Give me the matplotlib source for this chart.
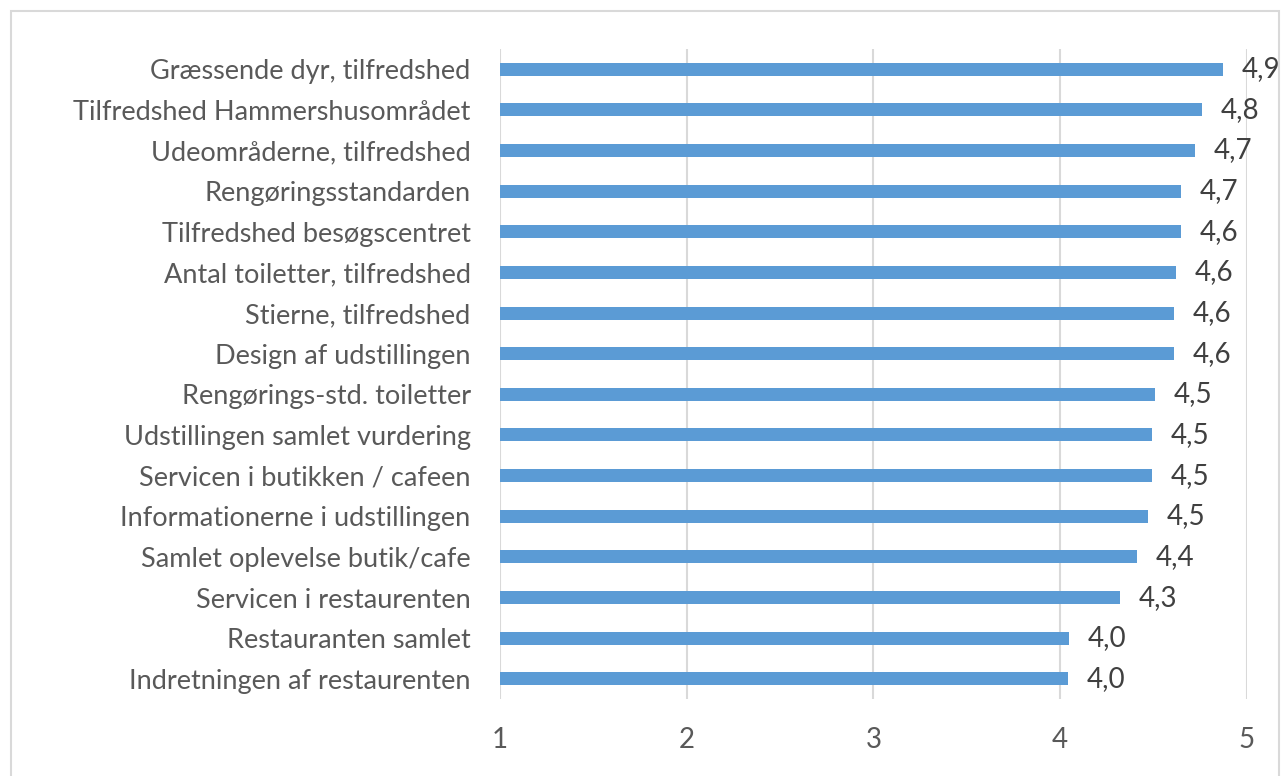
import matplotlib.pyplot as plt
import matplotlib.patches as mpatches

categories = [
    "Græssende dyr, tilfredshed",
    "Tilfredshed Hammershusområdet",
    "Udeområderne, tilfredshed",
    "Rengøringsstandarden",
    "Tilfredshed besøgscentret",
    "Antal toiletter, tilfredshed",
    "Stierne, tilfredshed",
    "Design af udstillingen",
    "Rengørings-std. toiletter",
    "Udstillingen samlet vurdering",
    "Servicen i butikken / cafeen",
    "Informationerne i udstillingen",
    "Samlet oplevelse butik/cafe",
    "Servicen i restaurenten",
    "Restauranten samlet",
    "Indretningen af restaurenten",
]
values = [4.87, 4.76, 4.72, 4.65, 4.65, 4.62, 4.61, 4.61,
          4.51, 4.49, 4.49, 4.47, 4.41, 4.32, 4.05, 4.04]
value_labels = ["4,9", "4,8", "4,7", "4,7", "4,6", "4,6", "4,6", "4,6",
                "4,5", "4,5", "4,5", "4,5", "4,4", "4,3", "4,0", "4,0"]
xticks = [1, 2, 3, 4, 5]

plt.rcParams['font.family'] = ['Lato', 'DejaVu Sans']

fig = plt.figure(figsize=(12.85, 7.76), dpi=100)
ax = fig.add_axes([0.389, 0.099, 0.5813, 0.838])

n = len(categories)
ypos = list(range(n))[::-1]
ax.barh(ypos, [v - 1 for v in values], left=1, height=0.32, color='#5B9BD5', zorder=3)

for y, v, lab in zip(ypos, values, value_labels):
    ax.text(v + 0.1, y, lab, va='center', ha='left', fontsize=20, color='#404040')

ax.set_xlim(1, 5)
ax.set_ylim(-0.5, n - 0.5)
ax.set_xticks(xticks)
ax.set_xticklabels([str(t) for t in xticks], fontsize=20, color='#595959')
ax.set_yticks(ypos)
ax.set_yticklabels(categories, fontsize=19.5, color='#595959')
ax.tick_params(axis='both', length=0)
ax.tick_params(axis='x', pad=20)
ax.tick_params(axis='y', pad=21)
ax.grid(axis='x', color='#D9D9D9', linewidth=1.5, zorder=0)
for s in ax.spines.values():
    s.set_visible(False)

# outer chart border
fig.patches.append(mpatches.Rectangle((11 / 1285, -0.01), 1268 / 1285, 1 - 11 / 776 + 0.01,
                                      transform=fig.transFigure, fill=False,
                                      edgecolor='#D9D9D9', linewidth=1.5))

fig.savefig('out.png', dpi=100)
